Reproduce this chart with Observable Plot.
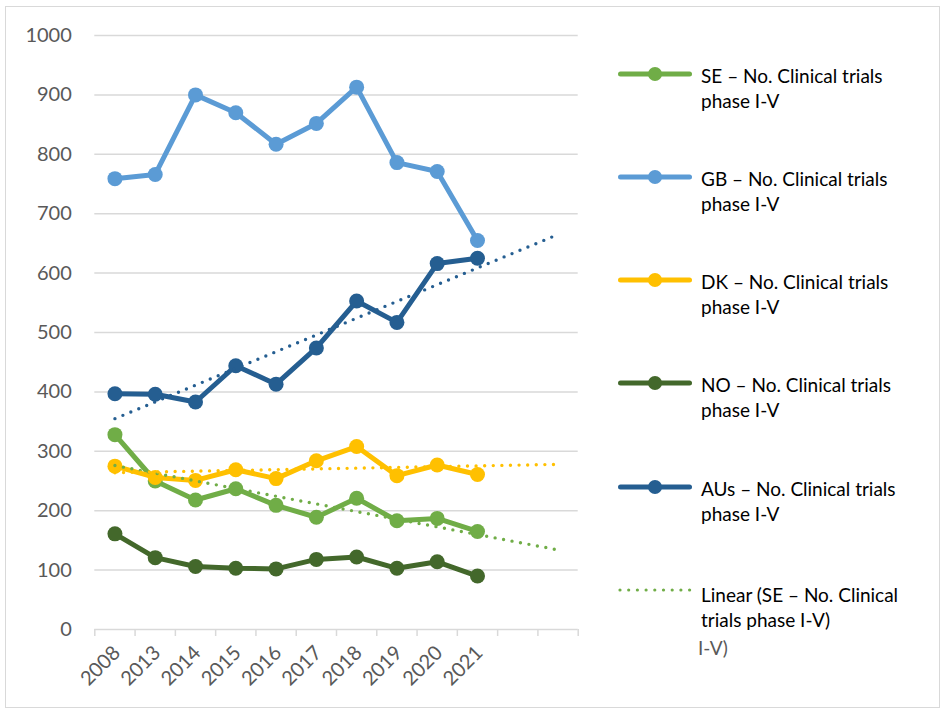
<!DOCTYPE html>
<html>
<head>
<meta charset="utf-8">
<script src="https://cdn.jsdelivr.net/npm/d3@7"></script>
<script src="https://cdn.jsdelivr.net/npm/@observablehq/plot@0.6"></script>
<style>
  body { margin: 0; background: #fff; }
  #wrap { position: relative; width: 945px; height: 713px; font-family: Lato, "Open Sans", sans-serif; overflow: hidden; }
  #frame { position: absolute; left: 5px; top: 6px; width: 935px; height: 702px; border: 1px solid #d9d9d9; box-sizing: border-box; }
  #chart { position: absolute; left: 0; top: 0; }
  .leg { position: absolute; left: 619px; width: 320px; }
  .leg svg { position: absolute; left: 0; top: 0; overflow: visible; }
  .leg .t { position: absolute; left: 82px; font-size: 19px; line-height: 24.5px; color: #000; white-space: nowrap; }
  .ghost { position: absolute; left: 698px; top: 636px; font-size: 19px; color: #595959; }
</style>
</head>
<body>
<div id="wrap">
  <div id="frame"></div>
  <div id="chart"></div>
  <div id="legend"></div>
  <div class="ghost">I-V)</div>
</div>
<script>
// Categories (two trailing empty slots are used by the forecast trend lines)
const years = ["2008", "2013", "2014", "2015", "2016", "2017", "2018", "2019", "2020", "2021"];
const slotCount = 12;

// Series values
const seNames = ["SE – No. Clinical trials phase I-V", "GB – No. Clinical trials phase I-V", "DK – No. Clinical trials phase I-V", "NO – No. Clinical trials phase I-V", "AUs – No. Clinical trials phase I-V"];
const SE  = [328, 250, 218, 237, 209, 189, 221, 183, 187, 165];
const GB  = [759, 766, 900, 870, 817, 852, 913, 786, 771, 655];
const DK  = [275, 256, 251, 269, 254, 284, 308, 259, 277, 261];
const NO  = [161, 121, 106, 103, 102, 118, 122, 103, 114, 90];
const AUs = [397, 396, 383, 444, 413, 474, 553, 517, 616, 625];
const seriesColors = ["#70ad47", "#5b9bd5", "#ffc000", "#43682b", "#255e91"];

// Linear trend lines (start at first category, end at last slot)
const trendSE  = [276, 134];
const trendDK  = [264, 278];
const trendAUs = [355, 665];
const trendColors = ["#70ad47", "#ffc000", "#255e91"];

const yTicks = d3.range(0, 1001, 100);

const allSeries = [SE, GB, DK, NO, AUs];
const rows = [];
allSeries.forEach((vals, k) => vals.forEach((v, i) => rows.push({i, v, s: seNames[k]})));

const trends = [
  {s: seNames[0], vals: trendSE},
  {s: seNames[2], vals: trendDK},
  {s: seNames[4], vals: trendAUs}
];
const trendRows = [];
trends.forEach(t => { trendRows.push({i: 0, v: t.vals[0], s: t.s}); trendRows.push({i: slotCount - 1, v: t.vals[1], s: t.s}); });

const marks = [
  Plot.ruleY(yTicks.filter(d => d > 0), {stroke: "#d9d9d9", strokeWidth: 1.5}),
  Plot.ruleY([0], {stroke: "#d9d9d9", strokeWidth: 1.5}),
  Plot.axisY({ticks: yTicks, tickSize: 0, tickPadding: 23, fontSize: 20, color: "#595959", label: null, tickFormat: d => String(d)}),
  Plot.axisX({ticks: d3.range(-0.5, slotCount, 1), tickSize: 7, tickFormat: () => "", stroke: "#d9d9d9", strokeWidth: 1.5, label: null}),
  Plot.axisX({ticks: d3.range(years.length), tickFormat: i => years[i], tickSize: 0, tickPadding: 12, dy: 8, dx: 2, tickRotate: -45, fontSize: 20, color: "#595959", label: null})
];
seNames.forEach(name => {
  const d = rows.filter(r => r.s === name);
  marks.push(Plot.line(d, {x: "i", y: "v", stroke: "s", strokeWidth: 5, strokeLinejoin: "round", strokeLinecap: "round"}));
  marks.push(Plot.dot(d, {x: "i", y: "v", fill: "s", r: 7.5, stroke: "none"}));
});
marks.push(Plot.line(trendRows, {x: "i", y: "v", z: "s", stroke: "s", strokeWidth: 3.4, strokeDasharray: "0 8.6", strokeLinecap: "round"}));

const chart = Plot.plot({
  width: 600,
  height: 713,
  marginLeft: 94.3,
  marginRight: 22.3,
  marginTop: 35,
  marginBottom: 84,
  style: {fontFamily: "Lato, 'Open Sans', sans-serif", background: "transparent", overflow: "visible"},
  x: {type: "linear", domain: [-0.5, slotCount - 0.5], axis: null},
  y: {domain: [0, 1000], axis: null},
  color: {domain: seNames, range: seriesColors},
  marks
});
document.getElementById("chart").appendChild(chart);

// Legend
const legendItems = [
  {label: ["SE – No. Clinical trials", "phase I-V"], color: seriesColors[0], dotted: false},
  {label: ["GB – No. Clinical trials", "phase I-V"], color: seriesColors[1], dotted: false},
  {label: ["DK – No. Clinical trials", "phase I-V"], color: seriesColors[2], dotted: false},
  {label: ["NO – No. Clinical trials", "phase I-V"], color: seriesColors[3], dotted: false},
  {label: ["AUs – No. Clinical trials", "phase I-V"], color: seriesColors[4], dotted: false},
  {label: ["Linear (SE – No. Clinical", "trials phase I-V)"], color: trendColors[0], dotted: true}
];
const legendY = [74, 177, 280, 383, 487, 590];
const leg = document.getElementById("legend");
legendItems.forEach((it, k) => {
  const div = document.createElement("div");
  div.className = "leg";
  div.style.top = legendY[k] + "px";
  const sym = it.dotted
    ? `<svg width="72" height="1"><line x1="1" x2="71" y1="0" y2="0" stroke="${it.color}" stroke-width="3.2" stroke-dasharray="0 8.7" stroke-linecap="round"/></svg>`
    : `<svg width="72" height="1"><line x1="1.5" x2="70.5" y1="0" y2="0" stroke="${it.color}" stroke-width="5" stroke-linecap="round"/><circle cx="36" cy="0" r="7" fill="${it.color}"/></svg>`;
  const dy = it.dotted ? -7 : -10;
  div.innerHTML = sym + `<div class="t" style="top:${dy}px">${it.label[0]}<br>${it.label[1]}</div>`;
  leg.appendChild(div);
});
</script>
</body>
</html>
